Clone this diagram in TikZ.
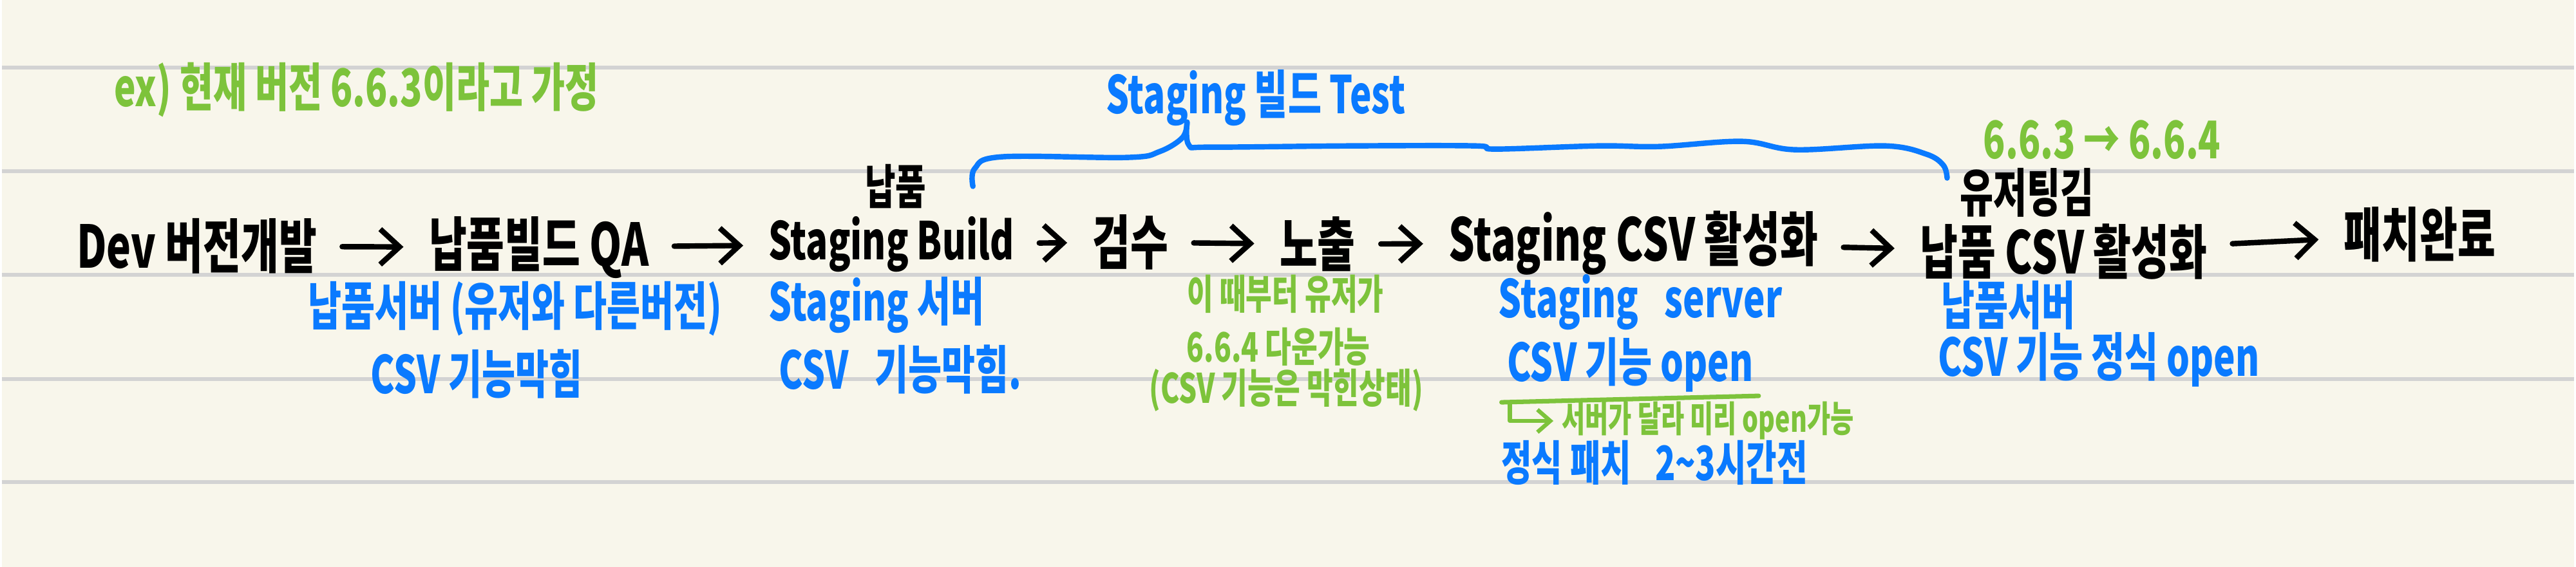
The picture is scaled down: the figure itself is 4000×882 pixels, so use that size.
\documentclass[tikz,border=0pt]{standalone}
\usepackage{fontspec}
\setmainfont{Noto Sans CJK KR}[FakeStretch=0.7]
\usetikzlibrary{arrows.meta, positioning, calc}
\definecolor{cblue}{HTML}{0A7AFF}
\definecolor{cgreen}{HTML}{7DC33B}
\definecolor{cpaper}{HTML}{F8F6EB}
\definecolor{crule}{HTML}{D3D3D3}
\tikzset{
  every picture/.style={line width=2pt, line cap=round, line join=round},
  word/.style={inner sep=0pt, font=\fontsize{26}{30}\selectfont\bfseries},
  note/.style={inner sep=0pt, text=#1, font=\fontsize{23}{27}\selectfont\bfseries},
  note/.default=cblue,
  small/.style={inner sep=0pt, text=#1, font=\fontsize{18}{21}\selectfont\bfseries},
  small/.default=cgreen,
  arrow/.style={-{Straight Barb[length=3mm, width=5.5mm]}, line width=2.4pt, shorten <=0.36cm, shorten >=0.36cm},
  garrow/.style={-{Straight Barb[length=2mm, width=3.5mm]}, draw=cgreen, line width=1.8pt, shorten >=0.1cm},
  brace/.style={draw=cblue, line width=2.4pt},
}

\begin{document}
\begin{tikzpicture}[x=0.01cm, y=-0.01cm]
  \fill[cpaper] (0,0) rectangle (4000,882);
  \foreach \y in {105,266,428,590,750} \draw[crule, line width=1.7pt, line cap=butt] (0,\y) -- (4000,\y);
  \node[note=cgreen] (ex) at (551,140) {ex) 현재 버전 6.6.3이라고 가정};
  \node[note] (st) at (1950,152) {Staging 빌드 Test};
  \node[word] (dev) at (303,383) {Dev 버전개발};
  \node[word] (qa) at (835,385) {납품빌드 QA};
  \node[word, font=\fontsize{23}{27}\selectfont\bfseries] (sb) at (1383,380) {Staging Build};
  \node[word] (gs) at (1755,377) {검수};
  \node[word] (nc) at (2046,380) {노출};
  \node[word] (scsv) at (2537,378) {Staging CSV 활성화};
  \node[word] (ncsv) at (3206,392) {납품 CSV 활성화};
  \node[word] (done) at (3760,365) {패치완료};
  \node[word, font=\fontsize{21}{24}\selectfont\bfseries] (nap) at (1390,290) {납품};
  \node[word, font=\fontsize{23}{26}\selectfont\bfseries] (kick) at (3149,300) {유저팅김};
  \node[note=cgreen] (ver) at (3266,218) {6.6.3 → 6.6.4};
  \foreach \a/\b in {dev/qa, qa/sb, sb/gs, gs/nc, nc/scsv, scsv/ncsv, ncsv/done} \draw[arrow] (\a) -- (\b);
  \node[note] (n1a) at (798,480) {납품서버 (유저와 다른버전)};
  \node[note] (n1b) at (738,582) {CSV 기능막힘};
  \node[note] (n2a) at (1360,475) {Staging 서버};
  \node[note] (n2b) at (1397,575) {CSV\enspace 기능막힘.};
  \node[small] (g3a) at (1996,458) {이 때부터 유저가};
  \node[small] (g3b) at (1985,540) {6.6.4 다운가능};
  \node[small] (g3c) at (1997,607) {(CSV 기능은 막힌상태)};
  \node[note] (n4a) at (2548,470) {Staging\enspace server};
  \node[note] (n4b) at (2532,568) {CSV 기능 open};
  \node[small, font=\fontsize{16}{19}\selectfont\bfseries] (g4) at (2653,655) {서버가 달라 미리 open가능};
  \node[note, font=\fontsize{21}{24}\selectfont\bfseries] (n4c) at (2570,720) {정식 패치\enspace 2\textasciitilde 3시간전};
  \node[note] (n5a) at (3120,475) {납품서버};
  \node[note] (n5b) at (3261,560) {CSV 기능 정식 open};
  \draw[draw=cgreen, line width=2pt] ($(n4b.south west)+(-5,12)$) coordinate (ul) -- ($(n4b.south east)+(5,2)$);
  \draw[garrow] ($(ul)+(13,1)$) |- (g4.west);
  \coordinate (bl) at (1510,290);
  \coordinate (bt) at (1843,190);
  \coordinate (br) at (3025,277);
  \draw[brace] plot[smooth, tension=0.6] coordinates {(bl) (1513,262) (1555,244) (1750,245) (1800,236) (1836,214) (bt)};
  \draw[brace] plot[smooth, tension=0.6] coordinates {(bt) (1846,226) (1880,229) (2100,227) (2291,227) (2323,232) (2483,227) (2578,228) (2706,220) (2789,233) (2929,227) (2993,240) (3019,257) (br)};
\end{tikzpicture}
\end{document}
